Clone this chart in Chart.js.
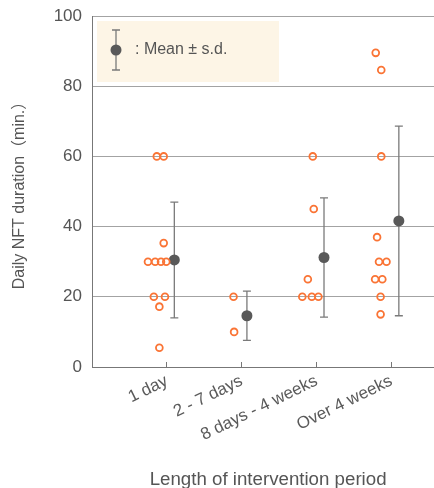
<!DOCTYPE html>
<html>
<head>
<meta charset="utf-8">
<script src="https://cdn.jsdelivr.net/npm/chart.js@4/dist/chart.umd.min.js"></script>
<style>
  html, body { margin: 0; padding: 0; background: #fff; overflow: hidden; }
  #wrap { width: 450px; height: 488px; }
</style>
</head>
<body>
<div id="wrap"><canvas id="chart" width="450" height="488"></canvas></div>
<script>
// groups on the x axis (1..4)
const categories = ["1 day", "2 - 7 days", "8 days - 4 weeks", "Over 4 weeks"];
const yTickValues = [0, 20, 40, 60, 80, 100];

// individual studies (x = group + jitter, y = minutes)
const pointX = [
  0.866, 0.958, 0.958, 0.748, 0.844, 0.922, 0.992, 0.826, 0.975, 0.900, 0.900,
  1.891, 1.899,
  2.950, 2.963, 2.884, 2.810, 2.937, 3.025,
  3.791, 3.865, 3.865, 3.809, 3.835, 3.935, 3.783, 3.879, 3.856, 3.856
];
const pointY = [
  60, 60, 35.3, 30, 30, 30, 30, 20, 20, 17.2, 5.5,
  20, 10,
  60, 45, 25, 20, 20, 20,
  89.5, 84.6, 60, 37, 30, 30, 25, 25, 20, 15
];

// group means and standard deviations
const meanX = [1.1, 2.07, 3.1, 4.1];
const meanY = [30.5, 14.6, 31.2, 41.6];
const sdY = [16.5, 7.0, 17.0, 27.0];

const FONT = "'Liberation Sans', Arial, 'Noto Sans CJK JP', sans-serif";
const TEXT = "#555";
Chart.defaults.font.family = FONT;
Chart.defaults.color = TEXT;

const errorBars = {
  id: "errorBars",
  beforeDatasetsDraw(chart) {
    const { ctx, scales: { x, y } } = chart;
    ctx.save();
    ctx.strokeStyle = "#7a7a7a";
    ctx.lineWidth = 1.3;
    meanX.forEach((mx, i) => {
      const px = x.getPixelForValue(mx);
      const top = y.getPixelForValue(meanY[i] + sdY[i]);
      const bot = y.getPixelForValue(meanY[i] - sdY[i]);
      ctx.beginPath();
      ctx.moveTo(px, top); ctx.lineTo(px, bot);
      ctx.moveTo(px - 4, top); ctx.lineTo(px + 4, top);
      ctx.moveTo(px - 4, bot); ctx.lineTo(px + 4, bot);
      ctx.stroke();
    });
    ctx.restore();
  }
};

const meanLegend = {
  id: "meanLegend",
  afterDraw(chart) {
    const { ctx, chartArea } = chart;
    const left = chartArea.left + 5, top = chartArea.top + 5;
    ctx.save();
    ctx.fillStyle = "#fdf5e6";
    ctx.fillRect(left, top, 182, 61);
    const mx = left + 19, my = top + 29;
    ctx.strokeStyle = "#7a7a7a";
    ctx.lineWidth = 1.3;
    ctx.beginPath();
    ctx.moveTo(mx, my - 20); ctx.lineTo(mx, my + 20);
    ctx.moveTo(mx - 4, my - 20); ctx.lineTo(mx + 4, my - 20);
    ctx.moveTo(mx - 4, my + 20); ctx.lineTo(mx + 4, my + 20);
    ctx.stroke();
    ctx.fillStyle = "#595959";
    ctx.beginPath();
    ctx.arc(mx, my, 5.5, 0, Math.PI * 2);
    ctx.fill();
    ctx.fillStyle = TEXT;
    ctx.font = "16px " + FONT;
    ctx.textBaseline = "middle";
    ctx.fillText(": Mean \u00b1 s.d.", mx + 19, my);
    ctx.restore();
  }
};

new Chart(document.getElementById("chart"), {
  type: "scatter",
  data: {
    datasets: [
      {
        label: "studies",
        data: pointX.map((v, i) => ({ x: v, y: pointY[i] })),
        pointRadius: 3.4,
        pointBorderWidth: 1.8,
        borderColor: "#fa7435",
        backgroundColor: "rgba(255,255,255,0)"
      },
      {
        label: "mean",
        data: meanX.map((v, i) => ({ x: v, y: meanY[i] })),
        pointRadius: 5.5,
        pointBorderWidth: 0,
        borderColor: "#595959",
        backgroundColor: "#595959"
      }
    ]
  },
  options: {
    responsive: false,
    animation: false,
    layout: { padding: { top: 16, left: 0, right: 0, bottom: 0 } },
    plugins: { legend: { display: false }, tooltip: { enabled: false } },
    scales: {
      x: {
        type: "linear",
        min: 0,
        max: 4.706,
        afterBuildTicks: scale => { scale.ticks = categories.map((c, i) => ({ value: i + 1 })); },
        afterFit: scale => { scale.height = 121; },
        ticks: {
          autoSkip: false,
          minRotation: 26,
          maxRotation: 26,
          padding: 9,
          color: "#5a5a5a",
          font: { size: 17 },
          callback: value => categories[value - 1]
        },
        grid: { drawOnChartArea: false, drawTicks: true, tickLength: -5, color: "#777" },
        border: { color: "#777", width: 1 },
        title: {
          display: true,
          text: "Length of intervention period",
          color: TEXT,
          font: { size: 18.7 },
          padding: { top: 0, bottom: -3 }
        }
      },
      y: {
        min: 0,
        max: 100,
        afterBuildTicks: scale => { scale.ticks = yTickValues.map(v => ({ value: v })); },
        afterFit: scale => { scale.width = 92; },
        ticks: { padding: 10, color: TEXT, font: { size: 17, lineHeight: 0.6 } },
        grid: { drawTicks: false, color: "#a3a3a3", lineWidth: 1 },
        border: { color: "#777", width: 1 },
        title: {
          display: true,
          text: "Daily NFT duration\uff08min.\uff09",
          color: TEXT,
          font: { size: 16 },
          padding: { top: 10, bottom: 0 }
        }
      }
    }
  },
  plugins: [errorBars, meanLegend]
});
</script>
</body>
</html>
